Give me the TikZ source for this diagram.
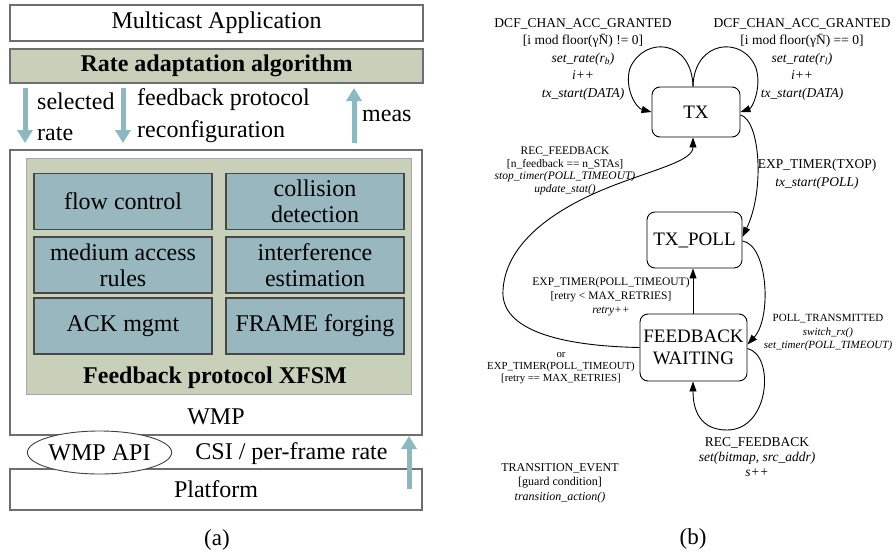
\documentclass[tikz,border=0pt]{standalone}
\usepackage{fontspec}
\setmainfont{Liberation Serif}
\newfontfamily\serifL{Liberation Serif}
\usetikzlibrary{arrows.meta,shapes.geometric}
\definecolor{greenfill}{RGB}{201,208,186}
\definecolor{bluefill}{RGB}{152,183,191}
\definecolor{arrowc}{RGB}{139,184,193}
\definecolor{boxline}{RGB}{110,110,110}
\newcommand{\fs}[2]{\fontsize{#1}{#2}\selectfont}
\begin{document}
\begin{tikzpicture}[x=1pt,y=-1pt,
  layer/.style={draw=boxline, line width=1.3pt, minimum width=413pt, inner sep=0pt, font=\serifL\fs{24}{28}},
  bluebox/.style={draw=black!72, line width=1.6pt, fill=bluefill, minimum width=178pt, minimum height=56pt, inner sep=0pt, align=center, font=\serifL\fs{24}{26}},
  lbl/.style={font=\serifL\fs{24}{28}, inner sep=0pt},
  fat/.style={draw=arrowc, line width=5pt, -{Triangle[length=13pt,width=15pt]}},
  state/.style={draw, rounded corners=8pt, line width=0.9pt, inner sep=0pt, align=center, font=\serifL\fs{19}{22}},
  edge/.style={line width=0.9pt, -{Triangle[length=10pt,width=7pt]}},
  elab/.style={align=center, inner sep=0pt}
]
\useasboundingbox (0,0) rectangle (896,554);

% ---------- (a) ----------
\node[layer, minimum height=36pt] (app) at (216.5,23) {Multicast Application};
\node[layer, fill=greenfill, minimum height=34pt, font=\serifL\fs{24}{28}\bfseries] (rate) at (216.5,66) {Rate adaptation algorithm};
\node[layer, minimum width=412pt, minimum height=285pt] (wmp) at (216,292.5) {};
\node[draw=black!35, line width=1pt, fill=greenfill, minimum width=385pt, minimum height=236pt, inner sep=0pt] (xfsm) at (218.5,276) {};
\node[bluebox] (flow) at (123,201.5) {flow control};
\node[bluebox] (coll) at (315,201.5) {collision\\detection};
\node[bluebox] (med) at (123,265) {medium access\\rules};
\node[bluebox] (intf) at (315,265) {interference\\estimation};
\node[bluebox] (ack) at (123,326) {ACK mgmt};
\node[bluebox] (frame) at (315,326) {FRAME forging};
\node[lbl, font=\serifL\fs{24}{28}\bfseries] (xfsmt) at (215,378) {Feedback protocol XFSM};
\node[lbl] (wmpt) at (216,417) {WMP};
\node[layer, minimum width=412pt, minimum height=41pt] (plat) at (216,489.5) {Platform};
\node[draw=black!75, line width=0.9pt, ellipse, minimum width=135pt, minimum height=43pt, inner sep=0pt, fill=white, font=\serifL\fs{24}{28}] (api) at (99.5,452.5) {WMP API};
\node[lbl] (csi) at (291.5,454) {CSI / per-frame rate};
\node[lbl, font=\serifL\fs{23}{28}] (capa) at (217,540) {(a)};

\coordinate (s1) at (25,88);  \coordinate (s2) at (25,143);
\coordinate (f1) at (123,88); \coordinate (f2) at (123,143);
\coordinate (m1) at (354,143); \coordinate (m2) at (354,88);
\coordinate (p1) at (409,489); \coordinate (p2) at (409,436);
\draw[fat] (s1) -- (s2);
\draw[fat] (f1) -- (f2);
\draw[fat] (m1) -- (m2);
\draw[fat] (p1) -- (p2);
\node[lbl, anchor=west] (sel1) at (37,101) {selected};
\node[lbl, anchor=west] (sel2) at (37,134) {rate};
\node[lbl, anchor=west] (fb1) at (137,100) {feedback protocol};
\node[lbl, anchor=west] (fb2) at (137,132) {reconfiguration};
\node[lbl, anchor=west] (meas) at (362,116) {meas};

% ---------- (b) ----------
\node[state, minimum width=88pt, minimum height=50pt] (tx) at (696,112) {TX};
\node[state, minimum width=95pt, minimum height=56pt] (poll) at (694.5,240) {TX\_POLL};
\node[state, minimum width=107pt, minimum height=67pt] (fw) at (693.5,347.5) {FEEDBACK\\WAITING};

% self loops on TX
\draw[edge] ([xshift=-3pt]tx.north) .. controls (692,40) and (645,35) .. (630,68)
            .. controls (624,88) and (636,108) .. (tx.west);
\draw[edge] ([xshift=-3pt]tx.north) .. controls (694,40) and (743,35) .. (756,68)
            .. controls (762,88) and (752,108) .. (tx.east);
% TX -> TX_POLL
\draw[edge] ([yshift=-3pt]tx.east) .. controls (760,120) and (765,190) .. ([yshift=3pt]poll.east);
% TX_POLL -> FW
\draw[edge] ([yshift=-1pt]poll.east) .. controls (768,245) and (772,318) .. ([yshift=3pt]fw.east);
% FW -> TX_POLL
\draw[edge] ([xshift=-0.5pt]fw.north) -- ([xshift=-1.5pt]poll.south);
% FW -> TX
\draw[edge] (fw.west) .. controls (560,346) and (500,330) .. (503,290)
            .. controls (506,240) and (560,205) .. (620,183)
            .. controls (660,168) and (693,160) .. ([xshift=-3pt]tx.south);
% FW self loop
\draw[edge] ([yshift=-1pt]fw.east) .. controls (775,355) and (770,430) .. (727,430)
            .. controls (700,430) and (693,410) .. ([xshift=-0.5pt]fw.south);

% labels
\node[elab, font=\fs{13.5}{17.5}] (l1) at (583,59) {DCF\_CHAN\_ACC\_GRANTED\\{[}i mod floor(γ\=N) != 0{]}\\\textit{set\_rate(r\textsubscript{b})}\\\textit{i++}\\\textit{tx\_start(DATA)}};
\node[elab, font=\fs{13.5}{17.5}] (l2) at (802,59) {DCF\_CHAN\_ACC\_GRANTED\\{[}i mod floor(γ\=N) == 0{]}\\\textit{set\_rate(r\textsubscript{l})}\\\textit{i++}\\\textit{tx\_start(DATA)}};
\node[elab, font=\fs{13.5}{18}] (l3) at (817,174) {EXP\_TIMER(TXOP)\\\textit{tx\_start(POLL)}};
\node[elab, font=\fs{11.5}{12.4}] (l4) at (565,171) {REC\_FEEDBACK\\{[}n\_feedback == n\_STAs{]}\\\textit{stop\_timer(POLL\_TIMEOUT)}\\\textit{update\_stat()}};
\node[elab, font=\fs{11.5}{14}] (l5) at (611,297) {EXP\_TIMER(POLL\_TIMEOUT)\\{[}retry < MAX\_RETRIES{]}\\\textit{retry++}};
\node[elab, font=\fs{10.8}{12}] (l6) at (561,368) {or\\EXP\_TIMER(POLL\_TIMEOUT)\\{[}retry == MAX\_RETRIES{]}};
\node[elab, font=\fs{11}{13.5}] (l7) at (828,333) {POLL\_TRANSMITTED\\\textit{switch\_rx()}\\\textit{set\_timer(POLL\_TIMEOUT)}};
\node[elab, font=\fs{13.5}{15}] (l8) at (757,457) {REC\_FEEDBACK\\\textit{set(bitmap, src\_addr)}\\\textit{s++}};
\node[elab, font=\fs{12}{14.5}] (l9) at (560,483) {TRANSITION\_EVENT\\{[}guard condition{]}\\\textit{transition\_action()}};
\node[elab, font=\fs{23}{28}] (capb) at (693,539) {(b)};
\end{tikzpicture}
\end{document}
